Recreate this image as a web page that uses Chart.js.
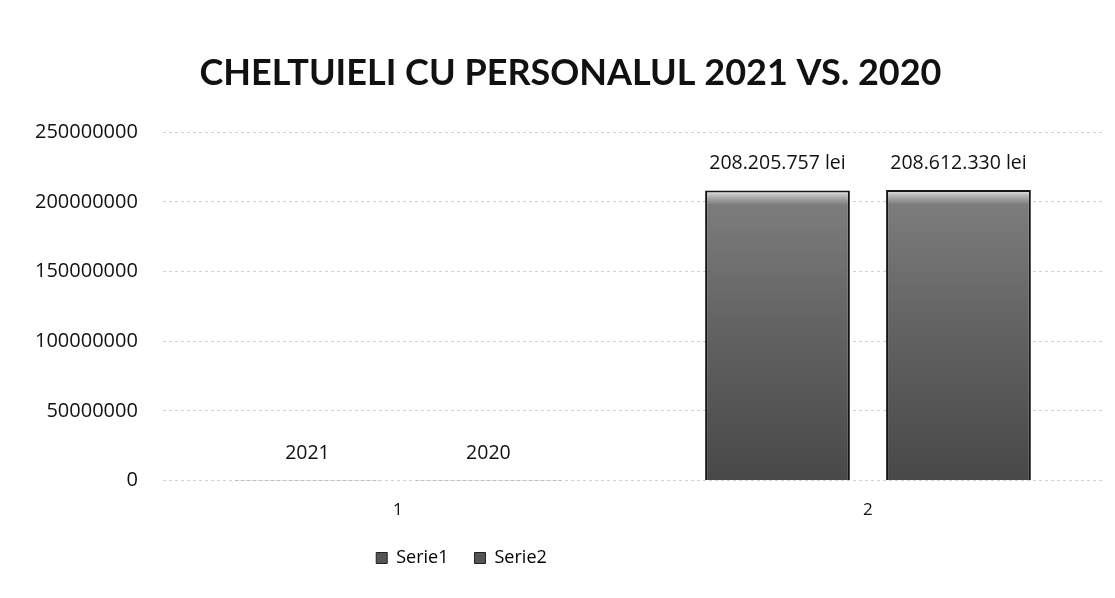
<!DOCTYPE html>
<html>
<head>
<meta charset="utf-8">
<script src="https://cdn.jsdelivr.net/npm/chart.js@4"></script>
<style>
  html, body { margin: 0; padding: 0; background: #fff; }
  #wrap { width: 1115px; height: 598px; position: relative; }
</style>
</head>
<body>
<div id="wrap"><canvas id="mycanvas"></canvas></div>
<script>
// chart data
var categories = ['1', '2'];
var serie1 = [2021, 208205757];
var serie2 = [2020, 208612330];
var seriesNames = ['Serie1', 'Serie2'];
var yTicks = [0, 50000000, 100000000, 150000000, 200000000, 250000000];

function formatLabel(v) {
    if (v < 10000) return String(v);
    return v.toString().replace(/\B(?=(\d{3})+(?!\d))/g, '.') + ' lei';
}

// gray bar fill, lighter cap at the top of each bar
function barFill(context) {
    var chart = context.chart;
    if (!chart.chartArea) return '#5e5e5e';
    var y = chart.scales.y;
    var top = y.getPixelForValue(context.raw);
    var bottom = y.getPixelForValue(0);
    if (bottom - top < 4) return '#5e5e5e';
    var g = chart.ctx.createLinearGradient(0, top, 0, bottom);
    g.addColorStop(0, '#ececec');
    g.addColorStop(0.02, '#b4b4b4');
    g.addColorStop(0.05, '#7c7c7c');
    g.addColorStop(0.45, '#646464');
    g.addColorStop(1, '#484848');
    return g;
}

var valueLabels = {
    id: 'valueLabels',
    afterDatasetsDraw: function(chart) {
        var ctx = chart.ctx;
        ctx.save();
        ctx.font = '19.5px "Open Sans", sans-serif';
        ctx.fillStyle = '#111';
        ctx.textAlign = 'center';
        ctx.textBaseline = 'bottom';
        chart.data.datasets.forEach(function(ds, i) {
            chart.getDatasetMeta(i).data.forEach(function(bar, j) {
                ctx.fillText(formatLabel(ds.data[j]), bar.x, bar.y - 17);
            });
        });
        ctx.restore();
    }
};

// legend sits left of the centre, title a bit right of it
var boxShift = {
    id: 'boxShift',
    afterLayout: function(chart) {
        chart.legend.left -= 95;
        chart.legend.right -= 95;
        chart.titleBlock.left += 14;
        chart.titleBlock.right += 14;
    }
};

var chartdata = {
    labels: categories,
    datasets: [
        {
            label: seriesNames[0],
            data: serie1,
            backgroundColor: barFill,
            borderColor: '#151515',
            borderWidth: 2
        },
        {
            label: seriesNames[1],
            data: serie2,
            backgroundColor: barFill,
            borderColor: '#151515',
            borderWidth: 2
        }
    ]
};

var ctx = document.getElementById('mycanvas');

var barGraph = new Chart(ctx, {
    type: 'bar',
    data: chartdata,
    plugins: [valueLabels, boxShift],
    options: {
        responsive: true,
        maintainAspectRatio: false,
        animation: false,
        layout: { padding: { left: 10, right: 12, top: 20, bottom: 21 } },
        datasets: { bar: { categoryPercentage: 0.77, barPercentage: 0.8 } },
        plugins: {
            title: {
                display: true,
                text: 'CHELTUIELI CU PERSONALUL 2021 VS. 2020',
                color: '#111',
                font: { family: 'Lato', size: 36, weight: 'bold' },
                padding: { top: 32, bottom: 37 }
            },
            legend: {
                position: 'bottom',
                labels: {
                    color: '#111',
                    font: { family: '"Open Sans", sans-serif', size: 18 },
                    boxWidth: 11,
                    boxHeight: 11,
                    padding: 26,
                    generateLabels: function(chart) {
                        return chart.data.datasets.map(function(ds, i) {
                            return {
                                text: ds.label,
                                fillStyle: '#555',
                                strokeStyle: '#222',
                                lineWidth: 1,
                                datasetIndex: i
                            };
                        });
                    }
                }
            },
            tooltip: { enabled: false }
        },
        scales: {
            x: {
                grid: { display: false },
                border: { display: false },
                afterFit: function(axis) { axis.height -= 8; },
                ticks: {
                    color: '#111',
                    font: { family: '"Open Sans", sans-serif', size: 17 },
                    padding: 11
                }
            },
            y: {
                min: yTicks[0],
                max: yTicks[yTicks.length - 1],
                afterBuildTicks: function(axis) {
                    axis.ticks = yTicks.map(function(v) { return { value: v }; });
                },
                grid: {
                    color: '#cfcfcf',
                    lineWidth: 1,
                    drawTicks: false
                },
                border: { display: false, dash: [3, 3] },
                ticks: {
                    color: '#111',
                    font: { family: '"Open Sans", sans-serif', size: 20 },
                    padding: 25,
                    callback: function(v) { return String(v); }
                }
            }
        }
    }
});
</script>
</body>
</html>
